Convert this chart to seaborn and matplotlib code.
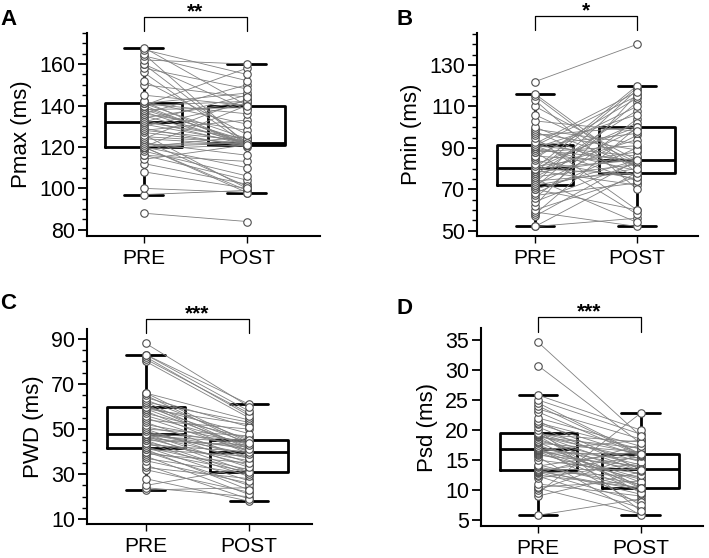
"""Paired PRE/POST boxplots for P-wave indices (four panels)."""
import numpy as np
import pandas as pd
import matplotlib
matplotlib.use('Agg')
import matplotlib.pyplot as plt
import matplotlib.transforms as mtransforms
from matplotlib.ticker import MultipleLocator
import seaborn as sns

# one entry per subject, PRE and POST in the same order
pmax_pre = [88, 97, 100, 108, 112, 114, 116, 116, 118, 119, 120, 120, 120, 120, 120,
            120, 121, 122, 123, 124, 124, 125, 126, 127, 128, 128, 129, 130, 131, 132,
            132, 133, 134, 135, 136, 136, 137, 138, 138, 139, 140, 140, 140, 141, 141,
            141, 142, 142, 145, 150, 152, 156, 158, 160, 160, 162, 164, 165, 167, 168]
pmax_post = [84, 99, 98, 100, 102, 121, 104, 113, 106, 121, 99, 122, 140, 98, 110,
             125, 122, 116, 101, 121, 143, 122, 100, 121, 133, 123, 120, 141, 122, 124,
             145, 121, 142, 122, 128, 150, 121, 123, 139, 122, 158, 121, 142, 124, 136,
             146, 121, 131, 140, 144, 126, 121, 148, 138, 122, 160, 152, 121, 155, 140]

pmin_pre = [52, 52, 57, 58, 59, 60, 62, 64, 66, 67, 68, 70, 70, 71, 72,
            72, 73, 74, 75, 76, 76, 77, 78, 78, 79, 79, 80, 80, 80, 80,
            81, 82, 84, 85, 86, 86, 88, 88, 89, 90, 90, 91, 91, 91, 91,
            92, 93, 95, 96, 97, 98, 99, 100, 103, 106, 110, 113, 115, 116, 122]
pmin_post = [78, 56, 84, 100, 52, 76, 116, 83, 104, 73, 90, 60, 84, 112, 80,
             96, 118, 78, 54, 99, 82, 108, 85, 119, 72, 94, 84, 120, 77, 102,
             88, 100, 75, 114, 83, 110, 58, 91, 84, 106, 79, 115, 74, 97, 86,
             117, 82, 60, 100, 89, 76, 92, 81, 98, 83, 84, 70, 78, 80, 140]

pwd_pre = [23, 24, 25, 28, 32, 33, 34, 36, 37, 38, 39, 40, 40, 41, 41,
           42, 42, 43, 44, 44, 45, 45, 46, 46, 47, 47, 47, 48, 48, 48,
           48, 49, 50, 50, 51, 52, 53, 54, 55, 56, 57, 58, 59, 59, 60,
           60, 61, 62, 62, 63, 64, 65, 66, 66, 80, 81, 82, 83, 83, 88]
pwd_post = [24, 20, 33, 18, 22, 28, 19, 26, 30, 21, 35, 25, 31, 23, 38,
            27, 32, 40, 29, 36, 43, 30, 34, 42, 37, 44, 31, 39, 45, 33,
            41, 38, 47, 35, 42, 44, 37, 50, 40, 43, 46, 39, 52, 42, 44,
            48, 40, 53, 41, 45, 51, 43, 54, 44, 55, 57, 56, 61, 58, 60]

psd_pre = [5.8, 9.0, 9.5, 10.0, 10.3, 10.5, 11.0, 12.0, 12.3, 12.5, 12.8, 13.0, 13.0, 13.1, 13.2,
           13.3, 13.5, 13.8, 14.0, 14.2, 15.0, 15.5, 15.8, 16.0, 16.2, 16.4, 16.5, 16.6, 16.7, 16.8,
           16.8, 17.0, 17.2, 17.5, 17.8, 18.0, 18.2, 18.5, 18.8, 19.0, 19.0, 19.2, 19.3, 19.4, 19.4,
           19.5, 20.0, 20.5, 21.0, 21.2, 21.5, 22.0, 23.0, 23.5, 24.0, 24.5, 25.0, 25.8, 30.7, 34.6]
psd_post = [8.5, 13.0, 22.8, 16.0, 6.0, 11.5, 9.0, 14.5, 7.0, 10.4, 17.5, 8.0, 12.3, 10.0, 15.5,
            9.3, 13.5, 11.0, 16.5, 10.2, 12.8, 5.8, 14.0, 11.8, 16.0, 9.8, 13.3, 18.3, 10.8, 12.0,
            15.0, 7.5, 13.7, 11.3, 16.3, 10.3, 14.2, 12.5, 17.0, 9.5, 15.2, 13.2, 18.0, 10.4, 14.7,
            16.0, 6.5, 13.5, 15.7, 16.8, 13.4, 17.3, 15.8, 18.5, 15.9, 16.0, 19.3, 20.0, 17.8, 19.0]

groups = ['PRE', 'POST']
panel_letters = ['A', 'B', 'C', 'D']
ylabels = ['Pmax (ms)', 'Pmin (ms)', 'PWD (ms)', 'Psd (ms)']
stars = ['**', '*', '***', '***']
yticks = [np.arange(80, 161, 20), np.arange(50, 131, 20), np.arange(10, 91, 20), np.arange(5, 36, 5)]
ylims = [(77, 175), (47.4, 145.5), (7.9, 94.4), (4, 37)]
xlims = [(-0.55, 1.71), (-0.57, 1.6), (-0.57, 1.61), (-0.56, 1.61)]
minor_steps = [5, 5, 5, None]

sns.set_style('ticks', rc={'axes.edgecolor': 'black', 'text.color': 'black',
                           'axes.labelcolor': 'black', 'xtick.color': 'black',
                           'ytick.color': 'black'})
plt.rcParams['font.family'] = ['Liberation Sans', 'DejaVu Sans']

W, H = 709, 558
# axes boxes in pixels: left, top, right, bottom
boxes_px = [(87, 33, 320, 236), (477, 33, 698, 236), (87, 329, 312, 524), (481, 328, 703, 526)]
bracket_y = [(1.010, 1.079), (1.015, 1.084), (0.980, 1.051), (0.980, 1.056)]
letter_px = [(0, 9), (396, 9), (0, 293), (396, 298)]

fig = plt.figure(figsize=(W / 100, H / 100), dpi=100)

panel_data = [(pmax_pre, pmax_post), (pmin_pre, pmin_post), (pwd_pre, pwd_post), (psd_pre, psd_post)]

for i, (pre, post) in enumerate(panel_data):
    l, t, r, b = boxes_px[i]
    ax = fig.add_axes([l / W, 1 - b / H, (r - l) / W, (b - t) / H])
    n = len(pre)
    df = pd.DataFrame({
        'subject': list(range(n)) * 2,
        'time': ['PRE'] * n + ['POST'] * n,
        'value': list(pre) + list(post),
    })

    sns.boxplot(data=df, x='time', y='value', order=groups, width=0.75, fill=False,
                color='black', linewidth=2.0, showfliers=False, whis=1.5, ax=ax)
    sns.lineplot(data=df, x='time', y='value', units='subject', estimator=None, sort=False,
                 color='0.5', linewidth=0.6, ax=ax, zorder=2.5, legend=False)
    sns.stripplot(data=df, x='time', y='value', order=groups, jitter=False, color='white',
                  edgecolor='0.3', linewidth=0.8, size=5.4, ax=ax, zorder=3)

    ax.set_xlim(*xlims[i])
    ax.set_ylim(*ylims[i])
    ax.set_yticks(yticks[i])
    if minor_steps[i]:
        ax.yaxis.set_minor_locator(MultipleLocator(minor_steps[i]))
    ax.set_xlabel('')
    ax.set_ylabel(ylabels[i], fontsize=16, labelpad=5)
    ax.tick_params(axis='y', which='major', length=6.5, width=1.3, labelsize=15.5, pad=2)
    ax.tick_params(axis='y', which='minor', length=3.5, width=1.0)
    ax.tick_params(axis='x', length=5, width=1.0, labelsize=15, pad=4)
    for side in ['left', 'bottom']:
        ax.spines[side].set_linewidth(1.5)
    sns.despine(ax=ax)

    # significance bracket above the two groups
    trans = mtransforms.blended_transform_factory(ax.transData, ax.transAxes)
    y0, y1 = bracket_y[i]
    ax.plot([0, 0, 1, 1], [y0, y1, y1, y0], color='black', linewidth=0.9,
            transform=trans, clip_on=False)
    ax.text(0.5, y1, stars[i], transform=trans, ha='center', va='baseline',
            fontsize=15, fontweight='bold')

    lx, ly = letter_px[i]
    fig.text(lx / W, 1 - ly / H, panel_letters[i], ha='left', va='top',
             fontsize=16, fontweight='bold')

fig.savefig('out.png', dpi=100)
